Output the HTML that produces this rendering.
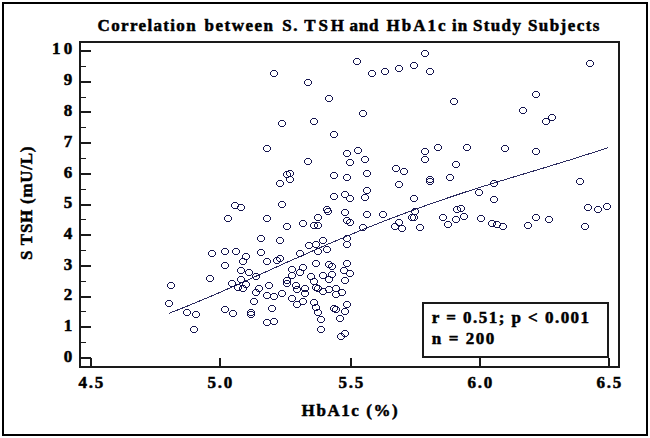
<!DOCTYPE html>
<html><head><meta charset="utf-8"><style>
html,body{margin:0;padding:0;background:#fff;}
body{width:650px;height:438px;position:relative;overflow:hidden;}
.frame{position:absolute;left:2px;top:2px;width:646px;height:434px;border:2px solid #000;box-sizing:border-box;}
.c{width:80px;text-align:center;}
.t{position:absolute;font-family:"Liberation Serif","Times New Roman",serif;font-weight:bold;color:#000;white-space:pre;line-height:1;-webkit-text-stroke:0.5px #000;}
svg{position:absolute;left:0;top:0;}
</style></head><body>
<div class="frame"></div>
<svg width="650" height="438" viewBox="0 0 650 438">
<rect x="80" y="42" width="539" height="325" fill="none" stroke="#1a1a1a" stroke-width="2"/>
<rect x="81" y="357" width="10" height="2" fill="#1a1a1a"/>
<rect x="81" y="342" width="5" height="1" fill="#1a1a1a"/>
<rect x="81" y="326" width="10" height="2" fill="#1a1a1a"/>
<rect x="81" y="311" width="5" height="1" fill="#1a1a1a"/>
<rect x="81" y="296" width="10" height="2" fill="#1a1a1a"/>
<rect x="81" y="281" width="5" height="1" fill="#1a1a1a"/>
<rect x="81" y="265" width="10" height="2" fill="#1a1a1a"/>
<rect x="81" y="250" width="5" height="1" fill="#1a1a1a"/>
<rect x="81" y="234" width="10" height="2" fill="#1a1a1a"/>
<rect x="81" y="219" width="5" height="1" fill="#1a1a1a"/>
<rect x="81" y="204" width="10" height="2" fill="#1a1a1a"/>
<rect x="81" y="189" width="5" height="1" fill="#1a1a1a"/>
<rect x="81" y="173" width="10" height="2" fill="#1a1a1a"/>
<rect x="81" y="158" width="5" height="1" fill="#1a1a1a"/>
<rect x="81" y="142" width="10" height="2" fill="#1a1a1a"/>
<rect x="81" y="127" width="5" height="1" fill="#1a1a1a"/>
<rect x="81" y="111" width="10" height="2" fill="#1a1a1a"/>
<rect x="81" y="97" width="5" height="1" fill="#1a1a1a"/>
<rect x="81" y="81" width="10" height="2" fill="#1a1a1a"/>
<rect x="81" y="66" width="5" height="1" fill="#1a1a1a"/>
<rect x="81" y="50" width="10" height="2" fill="#1a1a1a"/>
<rect x="90" y="358" width="2" height="8" fill="#1a1a1a"/>
<rect x="219" y="358" width="2" height="8" fill="#1a1a1a"/>
<rect x="350" y="358" width="2" height="8" fill="#1a1a1a"/>
<rect x="479" y="358" width="2" height="8" fill="#1a1a1a"/>
<rect x="608" y="358" width="2" height="8" fill="#1a1a1a"/>
<rect x="423" y="303" width="185" height="54" fill="#fff" stroke="#1a1a1a" stroke-width="2"/>
<polyline fill="none" stroke="#15154f" stroke-width="1" shape-rendering="crispEdges" stroke-opacity="0.9" points="169.0,313.3 179.0,309.4 189.0,305.4 198.9,301.3 208.9,297.1 218.9,292.8 228.9,288.4 238.8,284.0 248.8,279.5 258.8,275.0 268.8,270.5 278.8,266.0 288.7,261.5 298.7,257.1 308.7,252.7 318.7,248.3 328.6,243.9 338.6,239.7 348.6,235.5 358.6,231.3 368.5,227.3 378.5,223.3 388.5,219.4 398.5,215.6 408.5,211.9 418.4,208.2 428.4,204.6 438.4,201.2 448.4,197.7 458.3,194.4 468.3,191.1 478.3,187.9 488.3,184.8 498.2,181.7 508.2,178.6 518.2,175.6 528.2,172.6 538.2,169.6 548.1,166.6 558.1,163.5 568.1,160.5 578.1,157.3 588.0,154.2 598.0,150.9 608.0,147.6"/>
<path fill="#15154f" shape-rendering="crispEdges" d="M272 70h4v1h-4zM271 71h1v1h-1zM276 71h1v1h-1zM270 72h1v3h-1zM277 72h1v3h-1zM271 75h1v1h-1zM276 75h1v1h-1zM272 76h4v1h-4zM306 79h4v1h-4zM305 80h1v1h-1zM310 80h1v1h-1zM304 81h1v3h-1zM311 81h1v3h-1zM305 84h1v1h-1zM310 84h1v1h-1zM306 85h4v1h-4zM355 58h4v1h-4zM354 59h1v1h-1zM359 59h1v1h-1zM353 60h1v3h-1zM360 60h1v3h-1zM354 63h1v1h-1zM359 63h1v1h-1zM355 64h4v1h-4zM370 70h4v1h-4zM369 71h1v1h-1zM374 71h1v1h-1zM368 72h1v3h-1zM375 72h1v3h-1zM369 75h1v1h-1zM374 75h1v1h-1zM370 76h4v1h-4zM327 95h4v1h-4zM326 96h1v1h-1zM331 96h1v1h-1zM325 97h1v3h-1zM332 97h1v3h-1zM326 100h1v1h-1zM331 100h1v1h-1zM327 101h4v1h-4zM361 110h4v1h-4zM360 111h1v1h-1zM365 111h1v1h-1zM359 112h1v3h-1zM366 112h1v3h-1zM360 115h1v1h-1zM365 115h1v1h-1zM361 116h4v1h-4zM280 120h4v1h-4zM279 121h1v1h-1zM284 121h1v1h-1zM278 122h1v3h-1zM285 122h1v3h-1zM279 125h1v1h-1zM284 125h1v1h-1zM280 126h4v1h-4zM312 118h4v1h-4zM311 119h1v1h-1zM316 119h1v1h-1zM310 120h1v3h-1zM317 120h1v3h-1zM311 123h1v1h-1zM316 123h1v1h-1zM312 124h4v1h-4zM383 68h4v1h-4zM382 69h1v1h-1zM387 69h1v1h-1zM381 70h1v3h-1zM388 70h1v3h-1zM382 73h1v1h-1zM387 73h1v1h-1zM383 74h4v1h-4zM397 65h4v1h-4zM396 66h1v1h-1zM401 66h1v1h-1zM395 67h1v3h-1zM402 67h1v3h-1zM396 70h1v1h-1zM401 70h1v1h-1zM397 71h4v1h-4zM412 62h4v1h-4zM411 63h1v1h-1zM416 63h1v1h-1zM410 64h1v3h-1zM417 64h1v3h-1zM411 67h1v1h-1zM416 67h1v1h-1zM412 68h4v1h-4zM423 50h4v1h-4zM422 51h1v1h-1zM427 51h1v1h-1zM421 52h1v3h-1zM428 52h1v3h-1zM422 55h1v1h-1zM427 55h1v1h-1zM423 56h4v1h-4zM428 68h4v1h-4zM427 69h1v1h-1zM432 69h1v1h-1zM426 70h1v3h-1zM433 70h1v3h-1zM427 73h1v1h-1zM432 73h1v1h-1zM428 74h4v1h-4zM452 98h4v1h-4zM451 99h1v1h-1zM456 99h1v1h-1zM450 100h1v3h-1zM457 100h1v3h-1zM451 103h1v1h-1zM456 103h1v1h-1zM452 104h4v1h-4zM588 60h4v1h-4zM587 61h1v1h-1zM592 61h1v1h-1zM586 62h1v3h-1zM593 62h1v3h-1zM587 65h1v1h-1zM592 65h1v1h-1zM588 66h4v1h-4zM534 91h4v1h-4zM533 92h1v1h-1zM538 92h1v1h-1zM532 93h1v3h-1zM539 93h1v3h-1zM533 96h1v1h-1zM538 96h1v1h-1zM534 97h4v1h-4zM521 107h4v1h-4zM520 108h1v1h-1zM525 108h1v1h-1zM519 109h1v3h-1zM526 109h1v3h-1zM520 112h1v1h-1zM525 112h1v1h-1zM521 113h4v1h-4zM550 114h4v1h-4zM549 115h1v1h-1zM554 115h1v1h-1zM548 116h1v3h-1zM555 116h1v3h-1zM549 119h1v1h-1zM554 119h1v1h-1zM550 120h4v1h-4zM544 118h4v1h-4zM543 119h1v1h-1zM548 119h1v1h-1zM542 120h1v3h-1zM549 120h1v3h-1zM543 123h1v1h-1zM548 123h1v1h-1zM544 124h4v1h-4zM332 131h4v1h-4zM331 132h1v1h-1zM336 132h1v1h-1zM330 133h1v3h-1zM337 133h1v3h-1zM331 136h1v1h-1zM336 136h1v1h-1zM332 137h4v1h-4zM265 145h4v1h-4zM264 146h1v1h-1zM269 146h1v1h-1zM263 147h1v3h-1zM270 147h1v3h-1zM264 150h1v1h-1zM269 150h1v1h-1zM265 151h4v1h-4zM306 158h4v1h-4zM305 159h1v1h-1zM310 159h1v1h-1zM304 160h1v3h-1zM311 160h1v3h-1zM305 163h1v1h-1zM310 163h1v1h-1zM306 164h4v1h-4zM345 150h4v1h-4zM344 151h1v1h-1zM349 151h1v1h-1zM343 152h1v3h-1zM350 152h1v3h-1zM344 155h1v1h-1zM349 155h1v1h-1zM345 156h4v1h-4zM356 147h4v1h-4zM355 148h1v1h-1zM360 148h1v1h-1zM354 149h1v3h-1zM361 149h1v3h-1zM355 152h1v1h-1zM360 152h1v1h-1zM356 153h4v1h-4zM348 159h4v1h-4zM347 160h1v1h-1zM352 160h1v1h-1zM346 161h1v3h-1zM353 161h1v3h-1zM347 164h1v1h-1zM352 164h1v1h-1zM348 165h4v1h-4zM363 156h4v1h-4zM362 157h1v1h-1zM367 157h1v1h-1zM361 158h1v3h-1zM368 158h1v3h-1zM362 161h1v1h-1zM367 161h1v1h-1zM363 162h4v1h-4zM285 171h4v1h-4zM284 172h1v1h-1zM289 172h1v1h-1zM283 173h1v3h-1zM290 173h1v3h-1zM284 176h1v1h-1zM289 176h1v1h-1zM285 177h4v1h-4zM288 170h4v1h-4zM287 171h1v1h-1zM292 171h1v1h-1zM286 172h1v3h-1zM293 172h1v3h-1zM287 175h1v1h-1zM292 175h1v1h-1zM288 176h4v1h-4zM288 176h4v1h-4zM287 177h1v1h-1zM292 177h1v1h-1zM286 178h1v3h-1zM293 178h1v3h-1zM287 181h1v1h-1zM292 181h1v1h-1zM288 182h4v1h-4zM278 180h4v1h-4zM277 181h1v1h-1zM282 181h1v1h-1zM276 182h1v3h-1zM283 182h1v3h-1zM277 185h1v1h-1zM282 185h1v1h-1zM278 186h4v1h-4zM332 172h4v1h-4zM331 173h1v1h-1zM336 173h1v1h-1zM330 174h1v3h-1zM337 174h1v3h-1zM331 177h1v1h-1zM336 177h1v1h-1zM332 178h4v1h-4zM345 174h4v1h-4zM344 175h1v1h-1zM349 175h1v1h-1zM343 176h1v3h-1zM350 176h1v3h-1zM344 179h1v1h-1zM349 179h1v1h-1zM345 180h4v1h-4zM365 170h4v1h-4zM364 171h1v1h-1zM369 171h1v1h-1zM363 172h1v3h-1zM370 172h1v3h-1zM364 175h1v1h-1zM369 175h1v1h-1zM365 176h4v1h-4zM365 187h4v1h-4zM364 188h1v1h-1zM369 188h1v1h-1zM363 189h1v3h-1zM370 189h1v3h-1zM364 192h1v1h-1zM369 192h1v1h-1zM365 193h4v1h-4zM436 144h4v1h-4zM435 145h1v1h-1zM440 145h1v1h-1zM434 146h1v3h-1zM441 146h1v3h-1zM435 149h1v1h-1zM440 149h1v1h-1zM436 150h4v1h-4zM465 144h4v1h-4zM464 145h1v1h-1zM469 145h1v1h-1zM463 146h1v3h-1zM470 146h1v3h-1zM464 149h1v1h-1zM469 149h1v1h-1zM465 150h4v1h-4zM423 148h4v1h-4zM422 149h1v1h-1zM427 149h1v1h-1zM421 150h1v3h-1zM428 150h1v3h-1zM422 153h1v1h-1zM427 153h1v1h-1zM423 154h4v1h-4zM423 156h4v1h-4zM422 157h1v1h-1zM427 157h1v1h-1zM421 158h1v3h-1zM428 158h1v3h-1zM422 161h1v1h-1zM427 161h1v1h-1zM423 162h4v1h-4zM454 161h4v1h-4zM453 162h1v1h-1zM458 162h1v1h-1zM452 163h1v3h-1zM459 163h1v3h-1zM453 166h1v1h-1zM458 166h1v1h-1zM454 167h4v1h-4zM394 165h4v1h-4zM393 166h1v1h-1zM398 166h1v1h-1zM392 167h1v3h-1zM399 167h1v3h-1zM393 170h1v1h-1zM398 170h1v1h-1zM394 171h4v1h-4zM402 168h4v1h-4zM401 169h1v1h-1zM406 169h1v1h-1zM400 170h1v3h-1zM407 170h1v3h-1zM401 173h1v1h-1zM406 173h1v1h-1zM402 174h4v1h-4zM428 176h4v1h-4zM427 177h1v1h-1zM432 177h1v1h-1zM426 178h1v3h-1zM433 178h1v3h-1zM427 181h1v1h-1zM432 181h1v1h-1zM428 182h4v1h-4zM428 178h4v1h-4zM427 179h1v1h-1zM432 179h1v1h-1zM426 180h1v3h-1zM433 180h1v3h-1zM427 183h1v1h-1zM432 183h1v1h-1zM428 184h4v1h-4zM448 174h4v1h-4zM447 175h1v1h-1zM452 175h1v1h-1zM446 176h1v3h-1zM453 176h1v3h-1zM447 179h1v1h-1zM452 179h1v1h-1zM448 180h4v1h-4zM397 181h4v1h-4zM396 182h1v1h-1zM401 182h1v1h-1zM395 183h1v3h-1zM402 183h1v3h-1zM396 186h1v1h-1zM401 186h1v1h-1zM397 187h4v1h-4zM477 189h4v1h-4zM476 190h1v1h-1zM481 190h1v1h-1zM475 191h1v3h-1zM482 191h1v3h-1zM476 194h1v1h-1zM481 194h1v1h-1zM477 195h4v1h-4zM503 145h4v1h-4zM502 146h1v1h-1zM507 146h1v1h-1zM501 147h1v3h-1zM508 147h1v3h-1zM502 150h1v1h-1zM507 150h1v1h-1zM503 151h4v1h-4zM534 148h4v1h-4zM533 149h1v1h-1zM538 149h1v1h-1zM532 150h1v3h-1zM539 150h1v3h-1zM533 153h1v1h-1zM538 153h1v1h-1zM534 154h4v1h-4zM578 178h4v1h-4zM577 179h1v1h-1zM582 179h1v1h-1zM576 180h1v3h-1zM583 180h1v3h-1zM577 183h1v1h-1zM582 183h1v1h-1zM578 184h4v1h-4zM492 180h4v1h-4zM491 181h1v1h-1zM496 181h1v1h-1zM490 182h1v3h-1zM497 182h1v3h-1zM491 185h1v1h-1zM496 185h1v1h-1zM492 186h4v1h-4zM233 202h4v1h-4zM232 203h1v1h-1zM237 203h1v1h-1zM231 204h1v3h-1zM238 204h1v3h-1zM232 207h1v1h-1zM237 207h1v1h-1zM233 208h4v1h-4zM239 204h4v1h-4zM238 205h1v1h-1zM243 205h1v1h-1zM237 206h1v3h-1zM244 206h1v3h-1zM238 209h1v1h-1zM243 209h1v1h-1zM239 210h4v1h-4zM226 215h4v1h-4zM225 216h1v1h-1zM230 216h1v1h-1zM224 217h1v3h-1zM231 217h1v3h-1zM225 220h1v1h-1zM230 220h1v1h-1zM226 221h4v1h-4zM265 215h4v1h-4zM264 216h1v1h-1zM269 216h1v1h-1zM263 217h1v3h-1zM270 217h1v3h-1zM264 220h1v1h-1zM269 220h1v1h-1zM265 221h4v1h-4zM259 235h4v1h-4zM258 236h1v1h-1zM263 236h1v1h-1zM257 237h1v3h-1zM264 237h1v3h-1zM258 240h1v1h-1zM263 240h1v1h-1zM259 241h4v1h-4zM210 250h4v1h-4zM209 251h1v1h-1zM214 251h1v1h-1zM208 252h1v3h-1zM215 252h1v3h-1zM209 255h1v1h-1zM214 255h1v1h-1zM210 256h4v1h-4zM223 248h4v1h-4zM222 249h1v1h-1zM227 249h1v1h-1zM221 250h1v3h-1zM228 250h1v3h-1zM222 253h1v1h-1zM227 253h1v1h-1zM223 254h4v1h-4zM234 248h4v1h-4zM233 249h1v1h-1zM238 249h1v1h-1zM232 250h1v3h-1zM239 250h1v3h-1zM233 253h1v1h-1zM238 253h1v1h-1zM234 254h4v1h-4zM244 253h4v1h-4zM243 254h1v1h-1zM248 254h1v1h-1zM242 255h1v3h-1zM249 255h1v3h-1zM243 258h1v1h-1zM248 258h1v1h-1zM244 259h4v1h-4zM241 258h4v1h-4zM240 259h1v1h-1zM245 259h1v1h-1zM239 260h1v3h-1zM246 260h1v3h-1zM240 263h1v1h-1zM245 263h1v1h-1zM241 264h4v1h-4zM259 249h4v1h-4zM258 250h1v1h-1zM263 250h1v1h-1zM257 251h1v3h-1zM264 251h1v3h-1zM258 254h1v1h-1zM263 254h1v1h-1zM259 255h4v1h-4zM265 258h4v1h-4zM264 259h1v1h-1zM269 259h1v1h-1zM263 260h1v3h-1zM270 260h1v3h-1zM264 263h1v1h-1zM269 263h1v1h-1zM265 264h4v1h-4zM223 262h4v1h-4zM222 263h1v1h-1zM227 263h1v1h-1zM221 264h1v3h-1zM228 264h1v3h-1zM222 267h1v1h-1zM227 267h1v1h-1zM223 268h4v1h-4zM239 267h4v1h-4zM238 268h1v1h-1zM243 268h1v1h-1zM237 269h1v3h-1zM244 269h1v3h-1zM238 272h1v1h-1zM243 272h1v1h-1zM239 273h4v1h-4zM247 269h4v1h-4zM246 270h1v1h-1zM251 270h1v1h-1zM245 271h1v3h-1zM252 271h1v3h-1zM246 274h1v1h-1zM251 274h1v1h-1zM247 275h4v1h-4zM254 273h4v1h-4zM253 274h1v1h-1zM258 274h1v1h-1zM252 275h1v3h-1zM259 275h1v3h-1zM253 278h1v1h-1zM258 278h1v1h-1zM254 279h4v1h-4zM208 275h4v1h-4zM207 276h1v1h-1zM212 276h1v1h-1zM206 277h1v3h-1zM213 277h1v3h-1zM207 280h1v1h-1zM212 280h1v1h-1zM208 281h4v1h-4zM239 276h4v1h-4zM238 277h1v1h-1zM243 277h1v1h-1zM237 278h1v3h-1zM244 278h1v3h-1zM238 281h1v1h-1zM243 281h1v1h-1zM239 282h4v1h-4zM230 280h4v1h-4zM229 281h1v1h-1zM234 281h1v1h-1zM228 282h1v3h-1zM235 282h1v3h-1zM229 285h1v1h-1zM234 285h1v1h-1zM230 286h4v1h-4zM244 281h4v1h-4zM243 282h1v1h-1zM248 282h1v1h-1zM242 283h1v3h-1zM249 283h1v3h-1zM243 286h1v1h-1zM248 286h1v1h-1zM244 287h4v1h-4zM236 284h4v1h-4zM235 285h1v1h-1zM240 285h1v1h-1zM234 286h1v3h-1zM241 286h1v3h-1zM235 289h1v1h-1zM240 289h1v1h-1zM236 290h4v1h-4zM241 285h4v1h-4zM240 286h1v1h-1zM245 286h1v1h-1zM239 287h1v3h-1zM246 287h1v3h-1zM240 290h1v1h-1zM245 290h1v1h-1zM241 291h4v1h-4zM267 282h4v1h-4zM266 283h1v1h-1zM271 283h1v1h-1zM265 284h1v3h-1zM272 284h1v3h-1zM266 287h1v1h-1zM271 287h1v1h-1zM267 288h4v1h-4zM257 285h4v1h-4zM256 286h1v1h-1zM261 286h1v1h-1zM255 287h1v3h-1zM262 287h1v3h-1zM256 290h1v1h-1zM261 290h1v1h-1zM257 291h4v1h-4zM280 201h4v1h-4zM279 202h1v1h-1zM284 202h1v1h-1zM278 203h1v3h-1zM285 203h1v3h-1zM279 206h1v1h-1zM284 206h1v1h-1zM280 207h4v1h-4zM285 223h4v1h-4zM284 224h1v1h-1zM289 224h1v1h-1zM283 225h1v3h-1zM290 225h1v3h-1zM284 228h1v1h-1zM289 228h1v1h-1zM285 229h4v1h-4zM301 220h4v1h-4zM300 221h1v1h-1zM305 221h1v1h-1zM299 222h1v3h-1zM306 222h1v3h-1zM300 225h1v1h-1zM305 225h1v1h-1zM301 226h4v1h-4zM312 222h4v1h-4zM311 223h1v1h-1zM316 223h1v1h-1zM310 224h1v3h-1zM317 224h1v3h-1zM311 227h1v1h-1zM316 227h1v1h-1zM312 228h4v1h-4zM332 193h4v1h-4zM331 194h1v1h-1zM336 194h1v1h-1zM330 195h1v3h-1zM337 195h1v3h-1zM331 198h1v1h-1zM336 198h1v1h-1zM332 199h4v1h-4zM343 191h4v1h-4zM342 192h1v1h-1zM347 192h1v1h-1zM341 193h1v3h-1zM348 193h1v3h-1zM342 196h1v1h-1zM347 196h1v1h-1zM343 197h4v1h-4zM348 195h4v1h-4zM347 196h1v1h-1zM352 196h1v1h-1zM346 197h1v3h-1zM353 197h1v3h-1zM347 200h1v1h-1zM352 200h1v1h-1zM348 201h4v1h-4zM363 194h4v1h-4zM362 195h1v1h-1zM367 195h1v1h-1zM361 196h1v3h-1zM368 196h1v3h-1zM362 199h1v1h-1zM367 199h1v1h-1zM363 200h4v1h-4zM325 206h4v1h-4zM324 207h1v1h-1zM329 207h1v1h-1zM323 208h1v3h-1zM330 208h1v3h-1zM324 211h1v1h-1zM329 211h1v1h-1zM325 212h4v1h-4zM326 208h4v1h-4zM325 209h1v1h-1zM330 209h1v1h-1zM324 210h1v3h-1zM331 210h1v3h-1zM325 213h1v1h-1zM330 213h1v1h-1zM326 214h4v1h-4zM316 214h4v1h-4zM315 215h1v1h-1zM320 215h1v1h-1zM314 216h1v3h-1zM321 216h1v3h-1zM315 219h1v1h-1zM320 219h1v1h-1zM316 220h4v1h-4zM316 222h4v1h-4zM315 223h1v1h-1zM320 223h1v1h-1zM314 224h1v3h-1zM321 224h1v3h-1zM315 227h1v1h-1zM320 227h1v1h-1zM316 228h4v1h-4zM343 209h4v1h-4zM342 210h1v1h-1zM347 210h1v1h-1zM341 211h1v3h-1zM348 211h1v3h-1zM342 214h1v1h-1zM347 214h1v1h-1zM343 215h4v1h-4zM345 217h4v1h-4zM344 218h1v1h-1zM349 218h1v1h-1zM343 219h1v3h-1zM350 219h1v3h-1zM344 222h1v1h-1zM349 222h1v1h-1zM345 223h4v1h-4zM348 219h4v1h-4zM347 220h1v1h-1zM352 220h1v1h-1zM346 221h1v3h-1zM353 221h1v3h-1zM347 224h1v1h-1zM352 224h1v1h-1zM348 225h4v1h-4zM365 211h4v1h-4zM364 212h1v1h-1zM369 212h1v1h-1zM363 213h1v3h-1zM370 213h1v3h-1zM364 216h1v1h-1zM369 216h1v1h-1zM365 217h4v1h-4zM381 211h4v1h-4zM380 212h1v1h-1zM385 212h1v1h-1zM379 213h1v3h-1zM386 213h1v3h-1zM380 216h1v1h-1zM385 216h1v1h-1zM381 217h4v1h-4zM361 224h4v1h-4zM360 225h1v1h-1zM365 225h1v1h-1zM359 226h1v3h-1zM366 226h1v3h-1zM360 229h1v1h-1zM365 229h1v1h-1zM361 230h4v1h-4zM345 235h4v1h-4zM344 236h1v1h-1zM349 236h1v1h-1zM343 237h1v3h-1zM350 237h1v3h-1zM344 240h1v1h-1zM349 240h1v1h-1zM345 241h4v1h-4zM412 195h4v1h-4zM411 196h1v1h-1zM416 196h1v1h-1zM410 197h1v3h-1zM417 197h1v3h-1zM411 200h1v1h-1zM416 200h1v1h-1zM412 201h4v1h-4zM413 208h4v1h-4zM412 209h1v1h-1zM417 209h1v1h-1zM411 210h1v3h-1zM418 210h1v3h-1zM412 213h1v1h-1zM417 213h1v1h-1zM413 214h4v1h-4zM410 214h4v1h-4zM409 215h1v1h-1zM414 215h1v1h-1zM408 216h1v3h-1zM415 216h1v3h-1zM409 219h1v1h-1zM414 219h1v1h-1zM410 220h4v1h-4zM412 214h4v1h-4zM411 215h1v1h-1zM416 215h1v1h-1zM410 216h1v3h-1zM417 216h1v3h-1zM411 219h1v1h-1zM416 219h1v1h-1zM412 220h4v1h-4zM397 219h4v1h-4zM396 220h1v1h-1zM401 220h1v1h-1zM395 221h1v3h-1zM402 221h1v3h-1zM396 224h1v1h-1zM401 224h1v1h-1zM397 225h4v1h-4zM393 223h4v1h-4zM392 224h1v1h-1zM397 224h1v1h-1zM391 225h1v3h-1zM398 225h1v3h-1zM392 228h1v1h-1zM397 228h1v1h-1zM393 229h4v1h-4zM400 225h4v1h-4zM399 226h1v1h-1zM404 226h1v1h-1zM398 227h1v3h-1zM405 227h1v3h-1zM399 230h1v1h-1zM404 230h1v1h-1zM400 231h4v1h-4zM418 224h4v1h-4zM417 225h1v1h-1zM422 225h1v1h-1zM416 226h1v3h-1zM423 226h1v3h-1zM417 229h1v1h-1zM422 229h1v1h-1zM418 230h4v1h-4zM441 214h4v1h-4zM440 215h1v1h-1zM445 215h1v1h-1zM439 216h1v3h-1zM446 216h1v3h-1zM440 219h1v1h-1zM445 219h1v1h-1zM441 220h4v1h-4zM446 221h4v1h-4zM445 222h1v1h-1zM450 222h1v1h-1zM444 223h1v3h-1zM451 223h1v3h-1zM445 226h1v1h-1zM450 226h1v1h-1zM446 227h4v1h-4zM454 216h4v1h-4zM453 217h1v1h-1zM458 217h1v1h-1zM452 218h1v3h-1zM459 218h1v3h-1zM453 221h1v1h-1zM458 221h1v1h-1zM454 222h4v1h-4zM455 206h4v1h-4zM454 207h1v1h-1zM459 207h1v1h-1zM453 208h1v3h-1zM460 208h1v3h-1zM454 211h1v1h-1zM459 211h1v1h-1zM455 212h4v1h-4zM459 205h4v1h-4zM458 206h1v1h-1zM463 206h1v1h-1zM457 207h1v3h-1zM464 207h1v3h-1zM458 210h1v1h-1zM463 210h1v1h-1zM459 211h4v1h-4zM462 213h4v1h-4zM461 214h1v1h-1zM466 214h1v1h-1zM460 215h1v3h-1zM467 215h1v3h-1zM461 218h1v1h-1zM466 218h1v1h-1zM462 219h4v1h-4zM479 215h4v1h-4zM478 216h1v1h-1zM483 216h1v1h-1zM477 217h1v3h-1zM484 217h1v3h-1zM478 220h1v1h-1zM483 220h1v1h-1zM479 221h4v1h-4zM490 220h4v1h-4zM489 221h1v1h-1zM494 221h1v1h-1zM488 222h1v3h-1zM495 222h1v3h-1zM489 225h1v1h-1zM494 225h1v1h-1zM490 226h4v1h-4zM495 221h4v1h-4zM494 222h1v1h-1zM499 222h1v1h-1zM493 223h1v3h-1zM500 223h1v3h-1zM494 226h1v1h-1zM499 226h1v1h-1zM495 227h4v1h-4zM501 223h4v1h-4zM500 224h1v1h-1zM505 224h1v1h-1zM499 225h1v3h-1zM506 225h1v3h-1zM500 228h1v1h-1zM505 228h1v1h-1zM501 229h4v1h-4zM492 196h4v1h-4zM491 197h1v1h-1zM496 197h1v1h-1zM490 198h1v3h-1zM497 198h1v3h-1zM491 201h1v1h-1zM496 201h1v1h-1zM492 202h4v1h-4zM526 222h4v1h-4zM525 223h1v1h-1zM530 223h1v1h-1zM524 224h1v3h-1zM531 224h1v3h-1zM525 227h1v1h-1zM530 227h1v1h-1zM526 228h4v1h-4zM534 214h4v1h-4zM533 215h1v1h-1zM538 215h1v1h-1zM532 216h1v3h-1zM539 216h1v3h-1zM533 219h1v1h-1zM538 219h1v1h-1zM534 220h4v1h-4zM547 216h4v1h-4zM546 217h1v1h-1zM551 217h1v1h-1zM545 218h1v3h-1zM552 218h1v3h-1zM546 221h1v1h-1zM551 221h1v1h-1zM547 222h4v1h-4zM586 204h4v1h-4zM585 205h1v1h-1zM590 205h1v1h-1zM584 206h1v3h-1zM591 206h1v3h-1zM585 209h1v1h-1zM590 209h1v1h-1zM586 210h4v1h-4zM596 206h4v1h-4zM595 207h1v1h-1zM600 207h1v1h-1zM594 208h1v3h-1zM601 208h1v3h-1zM595 211h1v1h-1zM600 211h1v1h-1zM596 212h4v1h-4zM605 203h4v1h-4zM604 204h1v1h-1zM609 204h1v1h-1zM603 205h1v3h-1zM610 205h1v3h-1zM604 208h1v1h-1zM609 208h1v1h-1zM605 209h4v1h-4zM583 223h4v1h-4zM582 224h1v1h-1zM587 224h1v1h-1zM581 225h1v3h-1zM588 225h1v3h-1zM582 228h1v1h-1zM587 228h1v1h-1zM583 229h4v1h-4zM169 282h4v1h-4zM168 283h1v1h-1zM173 283h1v1h-1zM167 284h1v3h-1zM174 284h1v3h-1zM168 287h1v1h-1zM173 287h1v1h-1zM169 288h4v1h-4zM167 300h4v1h-4zM166 301h1v1h-1zM171 301h1v1h-1zM165 302h1v3h-1zM172 302h1v3h-1zM166 305h1v1h-1zM171 305h1v1h-1zM167 306h4v1h-4zM185 309h4v1h-4zM184 310h1v1h-1zM189 310h1v1h-1zM183 311h1v3h-1zM190 311h1v3h-1zM184 314h1v1h-1zM189 314h1v1h-1zM185 315h4v1h-4zM194 311h4v1h-4zM193 312h1v1h-1zM198 312h1v1h-1zM192 313h1v3h-1zM199 313h1v3h-1zM193 316h1v1h-1zM198 316h1v1h-1zM194 317h4v1h-4zM192 326h4v1h-4zM191 327h1v1h-1zM196 327h1v1h-1zM190 328h1v3h-1zM197 328h1v3h-1zM191 331h1v1h-1zM196 331h1v1h-1zM192 332h4v1h-4zM223 306h4v1h-4zM222 307h1v1h-1zM227 307h1v1h-1zM221 308h1v3h-1zM228 308h1v3h-1zM222 311h1v1h-1zM227 311h1v1h-1zM223 312h4v1h-4zM231 310h4v1h-4zM230 311h1v1h-1zM235 311h1v1h-1zM229 312h1v3h-1zM236 312h1v3h-1zM230 315h1v1h-1zM235 315h1v1h-1zM231 316h4v1h-4zM249 309h4v1h-4zM248 310h1v1h-1zM253 310h1v1h-1zM247 311h1v3h-1zM254 311h1v3h-1zM248 314h1v1h-1zM253 314h1v1h-1zM249 315h4v1h-4zM249 311h4v1h-4zM248 312h1v1h-1zM253 312h1v1h-1zM247 313h1v3h-1zM254 313h1v3h-1zM248 316h1v1h-1zM253 316h1v1h-1zM249 317h4v1h-4zM270 305h4v1h-4zM269 306h1v1h-1zM274 306h1v1h-1zM268 307h1v3h-1zM275 307h1v3h-1zM269 310h1v1h-1zM274 310h1v1h-1zM270 311h4v1h-4zM265 319h4v1h-4zM264 320h1v1h-1zM269 320h1v1h-1zM263 321h1v3h-1zM270 321h1v3h-1zM264 324h1v1h-1zM269 324h1v1h-1zM265 325h4v1h-4zM272 318h4v1h-4zM271 319h1v1h-1zM276 319h1v1h-1zM270 320h1v3h-1zM277 320h1v3h-1zM271 323h1v1h-1zM276 323h1v1h-1zM272 324h4v1h-4zM254 289h4v1h-4zM253 290h1v1h-1zM258 290h1v1h-1zM252 291h1v3h-1zM259 291h1v3h-1zM253 294h1v1h-1zM258 294h1v1h-1zM254 295h4v1h-4zM252 298h4v1h-4zM251 299h1v1h-1zM256 299h1v1h-1zM250 300h1v3h-1zM257 300h1v3h-1zM251 303h1v1h-1zM256 303h1v1h-1zM252 304h4v1h-4zM265 292h4v1h-4zM264 293h1v1h-1zM269 293h1v1h-1zM263 294h1v3h-1zM270 294h1v3h-1zM264 297h1v1h-1zM269 297h1v1h-1zM265 298h4v1h-4zM272 293h4v1h-4zM271 294h1v1h-1zM276 294h1v1h-1zM270 295h1v3h-1zM277 295h1v3h-1zM271 298h1v1h-1zM276 298h1v1h-1zM272 299h4v1h-4zM280 290h4v1h-4zM279 291h1v1h-1zM284 291h1v1h-1zM278 292h1v3h-1zM285 292h1v3h-1zM279 295h1v1h-1zM284 295h1v1h-1zM280 296h4v1h-4zM295 286h4v1h-4zM294 287h1v1h-1zM299 287h1v1h-1zM293 288h1v3h-1zM300 288h1v3h-1zM294 291h1v1h-1zM299 291h1v1h-1zM295 292h4v1h-4zM290 295h4v1h-4zM289 296h1v1h-1zM294 296h1v1h-1zM288 297h1v3h-1zM295 297h1v3h-1zM289 300h1v1h-1zM294 300h1v1h-1zM290 301h4v1h-4zM295 301h4v1h-4zM294 302h1v1h-1zM299 302h1v1h-1zM293 303h1v3h-1zM300 303h1v3h-1zM294 306h1v1h-1zM299 306h1v1h-1zM295 307h4v1h-4zM278 237h4v1h-4zM277 238h1v1h-1zM282 238h1v1h-1zM276 239h1v3h-1zM283 239h1v3h-1zM277 242h1v1h-1zM282 242h1v1h-1zM278 243h4v1h-4zM275 257h4v1h-4zM274 258h1v1h-1zM279 258h1v1h-1zM273 259h1v3h-1zM280 259h1v3h-1zM274 262h1v1h-1zM279 262h1v1h-1zM275 263h4v1h-4zM278 255h4v1h-4zM277 256h1v1h-1zM282 256h1v1h-1zM276 257h1v3h-1zM283 257h1v3h-1zM277 260h1v1h-1zM282 260h1v1h-1zM278 261h4v1h-4zM298 250h4v1h-4zM297 251h1v1h-1zM302 251h1v1h-1zM296 252h1v3h-1zM303 252h1v3h-1zM297 255h1v1h-1zM302 255h1v1h-1zM298 256h4v1h-4zM307 242h4v1h-4zM306 243h1v1h-1zM311 243h1v1h-1zM305 244h1v3h-1zM312 244h1v3h-1zM306 247h1v1h-1zM311 247h1v1h-1zM307 248h4v1h-4zM314 241h4v1h-4zM313 242h1v1h-1zM318 242h1v1h-1zM312 243h1v3h-1zM319 243h1v3h-1zM313 246h1v1h-1zM318 246h1v1h-1zM314 247h4v1h-4zM321 237h4v1h-4zM320 238h1v1h-1zM325 238h1v1h-1zM319 239h1v3h-1zM326 239h1v3h-1zM320 242h1v1h-1zM325 242h1v1h-1zM321 243h4v1h-4zM316 248h4v1h-4zM315 249h1v1h-1zM320 249h1v1h-1zM314 250h1v3h-1zM321 250h1v3h-1zM315 253h1v1h-1zM320 253h1v1h-1zM316 254h4v1h-4zM325 246h4v1h-4zM324 247h1v1h-1zM329 247h1v1h-1zM323 248h1v3h-1zM330 248h1v3h-1zM324 251h1v1h-1zM329 251h1v1h-1zM325 252h4v1h-4zM314 260h4v1h-4zM313 261h1v1h-1zM318 261h1v1h-1zM312 262h1v3h-1zM319 262h1v3h-1zM313 265h1v1h-1zM318 265h1v1h-1zM314 266h4v1h-4zM290 266h4v1h-4zM289 267h1v1h-1zM294 267h1v1h-1zM288 268h1v3h-1zM295 268h1v3h-1zM289 271h1v1h-1zM294 271h1v1h-1zM290 272h4v1h-4zM301 264h4v1h-4zM300 265h1v1h-1zM305 265h1v1h-1zM299 266h1v3h-1zM306 266h1v3h-1zM300 269h1v1h-1zM305 269h1v1h-1zM301 270h4v1h-4zM298 269h4v1h-4zM297 270h1v1h-1zM302 270h1v1h-1zM296 271h1v3h-1zM303 271h1v3h-1zM297 274h1v1h-1zM302 274h1v1h-1zM298 275h4v1h-4zM290 272h4v1h-4zM289 273h1v1h-1zM294 273h1v1h-1zM288 274h1v3h-1zM295 274h1v3h-1zM289 277h1v1h-1zM294 277h1v1h-1zM290 278h4v1h-4zM285 277h4v1h-4zM284 278h1v1h-1zM289 278h1v1h-1zM283 279h1v3h-1zM290 279h1v3h-1zM284 282h1v1h-1zM289 282h1v1h-1zM285 283h4v1h-4zM285 280h4v1h-4zM284 281h1v1h-1zM289 281h1v1h-1zM283 282h1v3h-1zM290 282h1v3h-1zM284 285h1v1h-1zM289 285h1v1h-1zM285 286h4v1h-4zM294 282h4v1h-4zM293 283h1v1h-1zM298 283h1v1h-1zM292 284h1v3h-1zM299 284h1v3h-1zM293 287h1v1h-1zM298 287h1v1h-1zM294 288h4v1h-4zM303 285h4v1h-4zM302 286h1v1h-1zM307 286h1v1h-1zM301 287h1v3h-1zM308 287h1v3h-1zM302 290h1v1h-1zM307 290h1v1h-1zM303 291h4v1h-4zM303 290h4v1h-4zM302 291h1v1h-1zM307 291h1v1h-1zM301 292h1v3h-1zM308 292h1v3h-1zM302 295h1v1h-1zM307 295h1v1h-1zM303 296h4v1h-4zM309 273h4v1h-4zM308 274h1v1h-1zM313 274h1v1h-1zM307 275h1v3h-1zM314 275h1v3h-1zM308 278h1v1h-1zM313 278h1v1h-1zM309 279h4v1h-4zM312 278h4v1h-4zM311 279h1v1h-1zM316 279h1v1h-1zM310 280h1v3h-1zM317 280h1v3h-1zM311 283h1v1h-1zM316 283h1v1h-1zM312 284h4v1h-4zM314 284h4v1h-4zM313 285h1v1h-1zM318 285h1v1h-1zM312 286h1v3h-1zM319 286h1v3h-1zM313 289h1v1h-1zM318 289h1v1h-1zM314 290h4v1h-4zM316 285h4v1h-4zM315 286h1v1h-1zM320 286h1v1h-1zM314 287h1v3h-1zM321 287h1v3h-1zM315 290h1v1h-1zM320 290h1v1h-1zM316 291h4v1h-4zM321 272h4v1h-4zM320 273h1v1h-1zM325 273h1v1h-1zM319 274h1v3h-1zM326 274h1v3h-1zM320 277h1v1h-1zM325 277h1v1h-1zM321 278h4v1h-4zM330 271h4v1h-4zM329 272h1v1h-1zM334 272h1v1h-1zM328 273h1v3h-1zM335 273h1v3h-1zM329 276h1v1h-1zM334 276h1v1h-1zM330 277h4v1h-4zM327 276h4v1h-4zM326 277h1v1h-1zM331 277h1v1h-1zM325 278h1v3h-1zM332 278h1v3h-1zM326 281h1v1h-1zM331 281h1v1h-1zM327 282h4v1h-4zM321 288h4v1h-4zM320 289h1v1h-1zM325 289h1v1h-1zM319 290h1v3h-1zM326 290h1v3h-1zM320 293h1v1h-1zM325 293h1v1h-1zM321 294h4v1h-4zM327 286h4v1h-4zM326 287h1v1h-1zM331 287h1v1h-1zM325 288h1v3h-1zM332 288h1v3h-1zM326 291h1v1h-1zM331 291h1v1h-1zM327 292h4v1h-4zM334 285h4v1h-4zM333 286h1v1h-1zM338 286h1v1h-1zM332 287h1v3h-1zM339 287h1v3h-1zM333 290h1v1h-1zM338 290h1v1h-1zM334 291h4v1h-4zM334 291h4v1h-4zM333 292h1v1h-1zM338 292h1v1h-1zM332 293h1v3h-1zM339 293h1v3h-1zM333 296h1v1h-1zM338 296h1v1h-1zM334 297h4v1h-4zM301 298h4v1h-4zM300 299h1v1h-1zM305 299h1v1h-1zM299 300h1v3h-1zM306 300h1v3h-1zM300 303h1v1h-1zM305 303h1v1h-1zM301 304h4v1h-4zM312 299h4v1h-4zM311 300h1v1h-1zM316 300h1v1h-1zM310 301h1v3h-1zM317 301h1v3h-1zM311 304h1v1h-1zM316 304h1v1h-1zM312 305h4v1h-4zM327 261h4v1h-4zM326 262h1v1h-1zM331 262h1v1h-1zM325 263h1v3h-1zM332 263h1v3h-1zM326 266h1v1h-1zM331 266h1v1h-1zM327 267h4v1h-4zM330 263h4v1h-4zM329 264h1v1h-1zM334 264h1v1h-1zM328 265h1v3h-1zM335 265h1v3h-1zM329 268h1v1h-1zM334 268h1v1h-1zM330 269h4v1h-4zM345 241h4v1h-4zM344 242h1v1h-1zM349 242h1v1h-1zM343 243h1v3h-1zM350 243h1v3h-1zM344 246h1v1h-1zM349 246h1v1h-1zM345 247h4v1h-4zM345 260h4v1h-4zM344 261h1v1h-1zM349 261h1v1h-1zM343 262h1v3h-1zM350 262h1v3h-1zM344 265h1v1h-1zM349 265h1v1h-1zM345 266h4v1h-4zM342 267h4v1h-4zM341 268h1v1h-1zM346 268h1v1h-1zM340 269h1v3h-1zM347 269h1v3h-1zM341 272h1v1h-1zM346 272h1v1h-1zM342 273h4v1h-4zM348 270h4v1h-4zM347 271h1v1h-1zM352 271h1v1h-1zM346 272h1v3h-1zM353 272h1v3h-1zM347 275h1v1h-1zM352 275h1v1h-1zM348 276h4v1h-4zM343 277h4v1h-4zM342 278h1v1h-1zM347 278h1v1h-1zM341 279h1v3h-1zM348 279h1v3h-1zM342 282h1v1h-1zM347 282h1v1h-1zM343 283h4v1h-4zM340 289h4v1h-4zM339 290h1v1h-1zM344 290h1v1h-1zM338 291h1v3h-1zM345 291h1v3h-1zM339 294h1v1h-1zM344 294h1v1h-1zM340 295h4v1h-4zM345 301h4v1h-4zM344 302h1v1h-1zM349 302h1v1h-1zM343 303h1v3h-1zM350 303h1v3h-1zM344 306h1v1h-1zM349 306h1v1h-1zM345 307h4v1h-4zM314 304h4v1h-4zM313 305h1v1h-1zM318 305h1v1h-1zM312 306h1v3h-1zM319 306h1v3h-1zM313 309h1v1h-1zM318 309h1v1h-1zM314 310h4v1h-4zM316 309h4v1h-4zM315 310h1v1h-1zM320 310h1v1h-1zM314 311h1v3h-1zM321 311h1v3h-1zM315 314h1v1h-1zM320 314h1v1h-1zM316 315h4v1h-4zM319 316h4v1h-4zM318 317h1v1h-1zM323 317h1v1h-1zM317 318h1v3h-1zM324 318h1v3h-1zM318 321h1v1h-1zM323 321h1v1h-1zM319 322h4v1h-4zM319 326h4v1h-4zM318 327h1v1h-1zM323 327h1v1h-1zM317 328h1v3h-1zM324 328h1v3h-1zM318 331h1v1h-1zM323 331h1v1h-1zM319 332h4v1h-4zM332 305h4v1h-4zM331 306h1v1h-1zM336 306h1v1h-1zM330 307h1v3h-1zM337 307h1v3h-1zM331 310h1v1h-1zM336 310h1v1h-1zM332 311h4v1h-4zM334 306h4v1h-4zM333 307h1v1h-1zM338 307h1v1h-1zM332 308h1v3h-1zM339 308h1v3h-1zM333 311h1v1h-1zM338 311h1v1h-1zM334 312h4v1h-4zM343 308h4v1h-4zM342 309h1v1h-1zM347 309h1v1h-1zM341 310h1v3h-1zM348 310h1v3h-1zM342 313h1v1h-1zM347 313h1v1h-1zM343 314h4v1h-4zM338 315h4v1h-4zM337 316h1v1h-1zM342 316h1v1h-1zM336 317h1v3h-1zM343 317h1v3h-1zM337 320h1v1h-1zM342 320h1v1h-1zM338 321h4v1h-4zM343 330h4v1h-4zM342 331h1v1h-1zM347 331h1v1h-1zM341 332h1v3h-1zM348 332h1v3h-1zM342 335h1v1h-1zM347 335h1v1h-1zM343 336h4v1h-4zM339 333h4v1h-4zM338 334h1v1h-1zM343 334h1v1h-1zM337 335h1v3h-1zM344 335h1v3h-1zM338 338h1v1h-1zM343 338h1v1h-1zM339 339h4v1h-4z"/>
</svg>
<div class="t" style="left:97.6px;top:16.56px;font-size:17px;width:520px;height:20px"><span style="position:absolute;left:0.0px;letter-spacing:1.34px">Correlation</span><span style="position:absolute;left:107.0px;letter-spacing:1.48px">between</span><span style="position:absolute;left:184.6px;letter-spacing:1.5px">S.</span><span style="position:absolute;left:206.6px;letter-spacing:2.85px">TSH</span><span style="position:absolute;left:251.9px;letter-spacing:0.75px">and</span><span style="position:absolute;left:289.0px;letter-spacing:1.97px">HbA1c</span><span style="position:absolute;left:354.4px;letter-spacing:1.0px">in</span><span style="position:absolute;left:375.3px;letter-spacing:1.38px">Study</span><span style="position:absolute;left:430.3px;letter-spacing:1.44px">Subjects</span></div>
<div class="t r" style="right:576.1px;top:347.76px;font-size:17px;letter-spacing:1.6px">0</div>
<div class="t r" style="right:576.1px;top:317.06px;font-size:17px;letter-spacing:1.6px">1</div>
<div class="t r" style="right:576.1px;top:286.36px;font-size:17px;letter-spacing:1.6px">2</div>
<div class="t r" style="right:576.1px;top:255.66px;font-size:17px;letter-spacing:1.6px">3</div>
<div class="t r" style="right:576.1px;top:224.96px;font-size:17px;letter-spacing:1.6px">4</div>
<div class="t r" style="right:576.1px;top:194.26px;font-size:17px;letter-spacing:1.6px">5</div>
<div class="t r" style="right:576.1px;top:163.56px;font-size:17px;letter-spacing:1.6px">6</div>
<div class="t r" style="right:576.1px;top:132.86px;font-size:17px;letter-spacing:1.6px">7</div>
<div class="t r" style="right:576.1px;top:102.16px;font-size:17px;letter-spacing:1.6px">8</div>
<div class="t r" style="right:576.1px;top:71.46px;font-size:17px;letter-spacing:1.6px">9</div>
<div class="t r" style="right:574.5px;top:40.36px;font-size:17px;letter-spacing:3.2px">10</div>
<div class="t c" style="left:51.85px;top:373.86px;font-size:17px;letter-spacing:1.75px">4.5</div>
<div class="t c" style="left:180.85px;top:373.86px;font-size:17px;letter-spacing:1.75px">5.0</div>
<div class="t c" style="left:311.85px;top:373.86px;font-size:17px;letter-spacing:1.75px">5.5</div>
<div class="t c" style="left:440.85px;top:373.86px;font-size:17px;letter-spacing:1.75px">6.0</div>
<div class="t c" style="left:569.85px;top:373.86px;font-size:17px;letter-spacing:1.75px">6.5</div>
<div class="t" style="left:301.6px;top:402.06px;font-size:17px;letter-spacing:1.56px;">HbA1c (%)</div>
<div class="t" style="left:431.8px;top:308.76px;font-size:17px;letter-spacing:1.46px;">r = 0.51; p &lt; 0.001</div>
<div class="t" style="left:431.8px;top:330.15999999999997px;font-size:17px;letter-spacing:1.57px;">n = 200</div>
<div class="t" style="left:0px;top:0px;font-size:17px;letter-spacing:0.73px;transform-origin:0 0;transform:translate(17.8px,260px) rotate(-90deg);">S TSH (mU/L)</div>
</body></html>
